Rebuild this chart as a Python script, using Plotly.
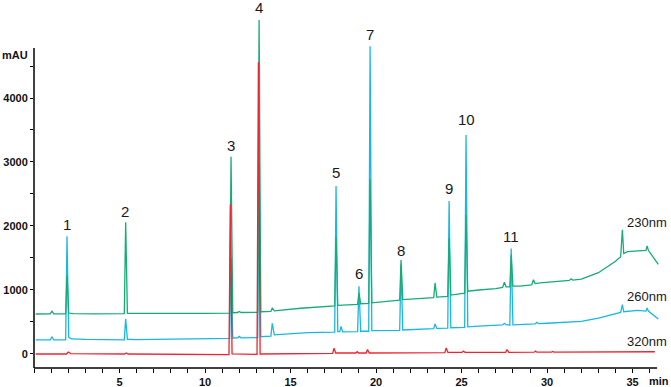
import plotly.graph_objects as go

# ---- data ----
t_230 = [0.1, 0.95, 1.05, 1.15, 1.85, 1.93, 2.03, 2.3, 3.5, 5.28, 5.36, 5.46, 5.8, 8.0, 10.0,
         11.44, 11.52, 11.62, 11.9, 12.0, 12.1, 13.08, 13.16, 13.26, 13.85, 13.93, 14.05, 15.6,
         17.58, 17.66, 17.76, 18.92, 19.0, 19.1, 19.57, 19.65, 19.75, 21.38, 21.46, 21.56, 22.0,
         23.37, 23.45, 23.55, 24.19, 24.27, 24.37, 25.18, 25.26, 25.36, 26.0, 27.0, 27.4, 27.5,
         27.6, 27.82, 27.9, 28.0, 28.4, 29.1, 29.2, 29.3, 29.6, 30.5, 31.3, 31.4, 31.5, 32.0,
         33.0, 34.0, 34.3, 34.4, 34.48, 34.7, 35.3, 35.78, 35.85, 35.92, 36.5]
a_230 = [625, 628, 670, 628, 628, 1230, 640, 632, 628, 630, 2060, 635, 635, 632, 636,
         640, 3080, 645, 648, 665, 648, 650, 5220, 660, 665, 720, 675, 715,
         750, 1830, 760, 775, 950, 785, 790, 2730, 800, 840, 1470, 850, 860,
         880, 1110, 890, 900, 1810, 920, 950, 2170, 980, 1000, 1020, 1040, 1120,
         1050, 1050, 1550, 1060, 1060, 1080, 1160, 1100, 1110, 1130, 1150, 1175, 1155, 1170,
         1270, 1450, 1520, 1940, 1570, 1600, 1610, 1620, 1690, 1620, 1400]

t_260 = [0.1, 0.95, 1.05, 1.15, 1.85, 1.93, 2.03, 2.2, 3.0, 4.0, 5.28, 5.36, 5.46, 6.0, 8.0,
         10.0, 11.44, 11.52, 11.62, 11.9, 12.0, 12.1, 13.08, 13.16, 13.26, 13.85, 13.93, 14.05,
         15.0, 16.0, 17.58, 17.66, 17.76, 17.88, 17.95, 18.05, 18.92, 19.0, 19.1, 19.57, 19.65,
         19.75, 21.38, 21.46, 21.56, 23.37, 23.45, 23.55, 24.19, 24.27, 24.37, 25.18, 25.26,
         25.36, 26.0, 27.0, 27.4, 27.5, 27.6, 27.82, 27.9, 28.0, 28.4, 29.3, 29.4, 29.5, 30.0,
         31.0, 31.4, 32.0, 33.0, 34.0, 34.3, 34.4, 34.48, 35.3, 35.78, 35.85, 35.92, 36.5]
a_260 = [220, 222, 265, 222, 222, 1840, 260, 235, 228, 225, 222, 550, 230, 225, 228,
         240, 245, 1500, 250, 252, 275, 252, 255, 3000, 270, 280, 480, 300,
         320, 335, 340, 2625, 350, 350, 430, 345, 350, 1060, 355, 355, 4810,
         365, 370, 1400, 375, 395, 470, 400, 405, 2390, 410, 415, 3420,
         425, 435, 445, 455, 480, 458, 450, 1650, 455, 460, 470, 495, 475, 480,
         490, 505, 510, 560, 620, 650, 770, 660, 680, 670, 720, 670, 545]

t_320 = [0.1, 1.9, 2.0, 2.15, 5.3, 5.4, 5.5, 9.0, 11.4, 11.48, 11.58, 13.04, 13.12, 13.22,
         16.0, 17.46, 17.54, 17.64, 18.82, 18.9, 18.98, 19.42, 19.5, 19.6, 22.0, 24.02, 24.1,
         24.2, 25.02, 25.1, 25.2, 27.58, 27.66, 27.76, 29.25, 29.32, 29.4, 30.25, 30.32, 30.4,
         36.3]
a_320 = [0, 0, 30, 5, 0, 15, 0, 0, -10, 2340, 0, -5, 4560, 0,
         5, 10, 90, 15, 15, 35, 15, 15, 70, 15, 18, 20, 95,
         25, 25, 45, 25, 25, 70, 25, 28, 45, 28, 28, 40, 28,
         35]

peak_labels = ["1", "2", "3", "4", "5", "6", "7", "8", "9", "10", "11"]
label_t = [1.93, 5.33, 11.52, 13.16, 17.66, 19.0, 19.65, 21.46, 24.27, 25.26, 27.9]
label_v = [2030, 2230, 3265, 5420, 2830, 1265, 4995, 1610, 2590, 3660, 1830]

wave_labels = ["230nm", "260nm", "320nm"]
wave_t = [35.85, 35.85, 35.85]
wave_v = [2060, 905, 190]

y_ticks = [0, 1000, 2000, 3000, 4000]
y_minor = [500, 1500, 2500, 3500, 4500]
x_ticks = [5, 10, 15, 20, 25, 30, 35]

assert len(t_230) == len(a_230) and len(t_260) == len(a_260) and len(t_320) == len(a_320)

GREEN = "rgb(22,172,118)"
CYAN = "rgb(24,184,226)"
RED = "rgb(240,36,48)"
FONT = "Liberation Sans, Arial, sans-serif"

fig = go.Figure()
fig.add_trace(go.Scatter(x=t_260, y=a_260, mode="lines", line=dict(color=CYAN, width=1.3), name="260nm"))
fig.add_trace(go.Scatter(x=t_230, y=a_230, mode="lines", line=dict(color=GREEN, width=1.3), name="230nm"))
fig.add_trace(go.Scatter(x=t_320, y=a_320, mode="lines", line=dict(color=RED, width=1.3), name="320nm"))

Y0, Y1 = -219, 5500
X0, X1 = 0, 36.6
AX_END = 36.43
Y_AX_TOP = 4780

annotations = []
for txt, t, v in zip(peak_labels, label_t, label_v):
    annotations.append(dict(x=t, y=v, xref="x", yref="y", text=txt, showarrow=False,
                            font=dict(family=FONT, size=15, color="#1a1a1a"),
                            xanchor="center", yanchor="middle"))
for txt, t, v in zip(wave_labels, wave_t, wave_v):
    annotations.append(dict(x=t, y=v, xref="x", yref="y", text=txt, showarrow=False,
                            font=dict(family=FONT, size=13, color="#1a1a1a"),
                            xanchor="center", yanchor="middle"))
annotations.append(dict(x=-0.0304, y=4672, xref="paper", yref="y", text="<b>mAU</b>",
                        showarrow=False, font=dict(family=FONT, size=11, color="#111"),
                        xanchor="center", yanchor="middle"))
annotations.append(dict(x=0.998, y=-0.036, xref="paper", yref="paper", text="<b>min</b>",
                        showarrow=False, font=dict(family=FONT, size=11, color="#111"),
                        xanchor="center", yanchor="middle"))

fig.update_layout(
    template="none",
    width=671, height=387,
    margin=dict(l=34, r=11, t=2, b=19, autoexpand=False),
    paper_bgcolor="white", plot_bgcolor="white",
    showlegend=False,
    hovermode=False,
    font=dict(family=FONT, color="#111"),
    annotations=annotations,
    shapes=[
        dict(type="line", xref="x", yref="paper", x0=0, x1=AX_END, y0=0, y1=0,
             line=dict(color="black", width=1.5), layer="above"),
        dict(type="line", xref="paper", yref="y", x0=0, x1=0, y0=Y0, y1=Y_AX_TOP,
             line=dict(color="black", width=1.5), layer="above"),
    ],
    xaxis=dict(range=[X0, X1], automargin=False, showgrid=False, zeroline=False, showline=False,
               tickmode="array", tickvals=x_ticks, ticktext=[str(v) for v in x_ticks],
               ticks="outside", ticklen=4, tickwidth=1, tickcolor="black",
               tickfont=dict(family=FONT, size=11, color="#111", weight="bold"),
               minor=dict(tickmode="linear", tick0=0, dtick=1, ticks="outside", ticklen=4,
                          tickcolor="black", tickwidth=1, showgrid=False)),
    yaxis=dict(range=[Y0, Y1], automargin=False, showgrid=False, zeroline=False, showline=False,
               tickmode="array", tickvals=y_ticks, ticktext=[str(v) for v in y_ticks],
               ticks="outside", ticklen=3, tickwidth=1, tickcolor="black",
               tickfont=dict(family=FONT, size=11, color="#111", weight="bold"),
               minor=dict(tickmode="array", tickvals=y_minor, ticks="outside", ticklen=3,
                          tickcolor="black", tickwidth=1, showgrid=False)),
)

fig.write_html("out.html",
               config={"displayModeBar": False, "staticPlot": True},
               post_script="document.body.style.margin='0';document.body.style.overflow='hidden';")
